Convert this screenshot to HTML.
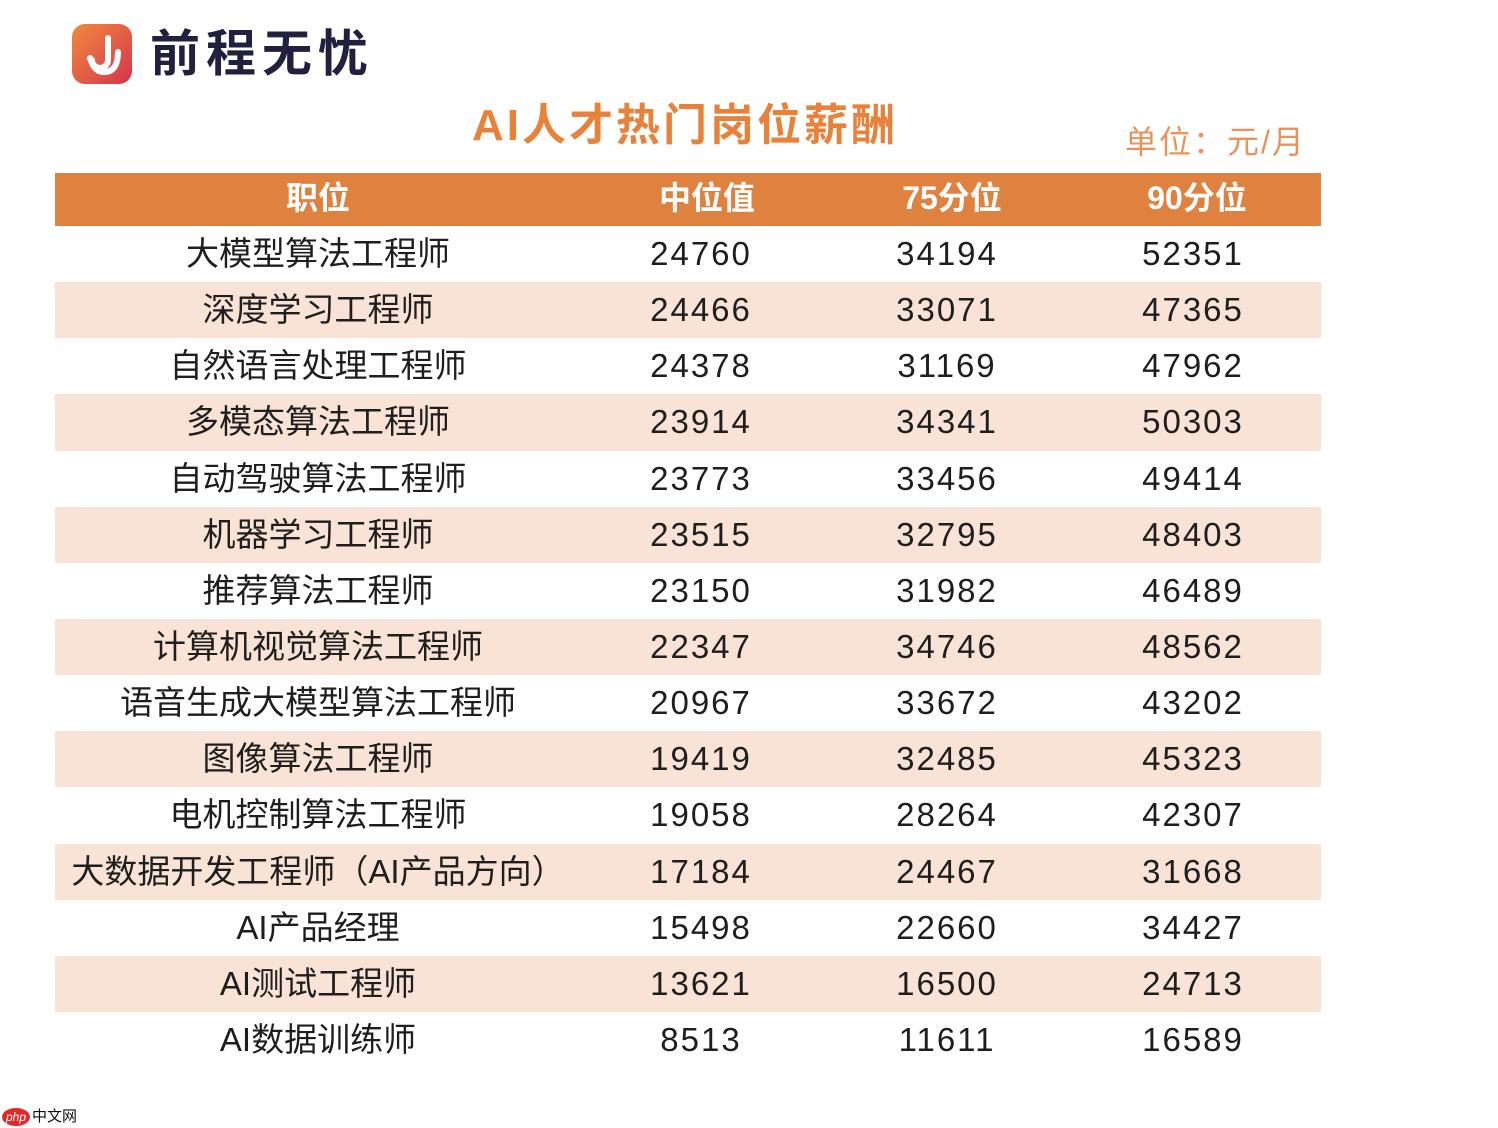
<!DOCTYPE html>
<html><head><meta charset="utf-8"><style>
html,body{margin:0;padding:0;background:#fff;width:1498px;height:1128px;overflow:hidden;position:relative;font-family:"Liberation Sans","Noto Sans CJK SC",sans-serif}
.a{position:absolute}
.row{position:absolute;left:55px;width:1266px;height:56.14px}
.row div{position:absolute;top:0;height:56px;line-height:56px;text-align:center;font-size:33px;color:#1e1e1e;transform:translateX(-50%);white-space:nowrap}
.n{letter-spacing:2px}
.hd div{color:#fff;font-weight:bold;font-size:32px;line-height:50px}
</style></head><body>
<div class="a" style="left:72px;top:24px;width:60px;height:60px;border-radius:13px;background:linear-gradient(135deg,#ef8a3c,#d8344e)"></div>
<svg class="a" style="left:72px;top:24px" width="60" height="60"><path d="M36 14 v22 a8 8 0 0 1 -16 0" stroke="#fff" stroke-width="6" fill="none" stroke-linecap="round"/><path d="M18 34 q4 14 14 14 q14 0 14 -20" stroke="#fff" stroke-width="6" fill="none" stroke-linecap="round"/></svg>
<div class="a" style="left:150px;top:24px;font-size:50px;font-weight:bold;color:#23203f;line-height:60px;letter-spacing:6px">前程无忧</div>
<div class="a" style="left:472px;top:98px;font-size:44px;font-weight:bold;color:#e8823a;line-height:56px;letter-spacing:3px">AI人才热门岗位薪酬</div>
<div class="a" style="left:1125px;top:120px;font-size:32px;color:#e9935a;line-height:44px;letter-spacing:2px">单位：元/月</div>
<div class="row hd" style="top:173px;height:53px;background:#e0823f"><div style="left:263px">职位</div><div style="left:652px">中位值</div><div style="left:897px">75分位</div><div style="left:1142px">90分位</div></div>
<div id="t"></div>
<div class="a" style="left:2px;top:1108px;width:28px;height:18px;border-radius:50%;background:#e02a2a;color:#fff;font-size:12px;line-height:18px;text-align:center;font-style:italic">php</div>
<div class="a" style="left:32px;top:1107px;font-size:15px;color:#111;line-height:20px">中文网</div>
<script>
var d=[["大模型算法工程师",24760,34194,52351],["深度学习工程师",24466,33071,47365],["自然语言处理工程师",24378,31169,47962],["多模态算法工程师",23914,34341,50303],["自动驾驶算法工程师",23773,33456,49414],["机器学习工程师",23515,32795,48403],["推荐算法工程师",23150,31982,46489],["计算机视觉算法工程师",22347,34746,48562],["语音生成大模型算法工程师",20967,33672,43202],["图像算法工程师",19419,32485,45323],["电机控制算法工程师",19058,28264,42307],["大数据开发工程师（AI产品方向）",17184,24467,31668],["AI产品经理",15498,22660,34427],["AI测试工程师",13621,16500,24713],["AI数据训练师",8513,11611,16589]];
var h="";d.forEach(function(r,i){h+='<div class="row" style="top:'+(226+i*56.14)+'px;background:'+(i%2?'#f9e3d6':'#fff')+'"><div style="left:263px">'+r[0]+'</div><div class="n" style="left:646px">'+r[1]+'</div><div class="n" style="left:892px">'+r[2]+'</div><div class="n" style="left:1138px">'+r[3]+'</div></div>';});
document.getElementById("t").innerHTML=h;
</script>
</body></html>
